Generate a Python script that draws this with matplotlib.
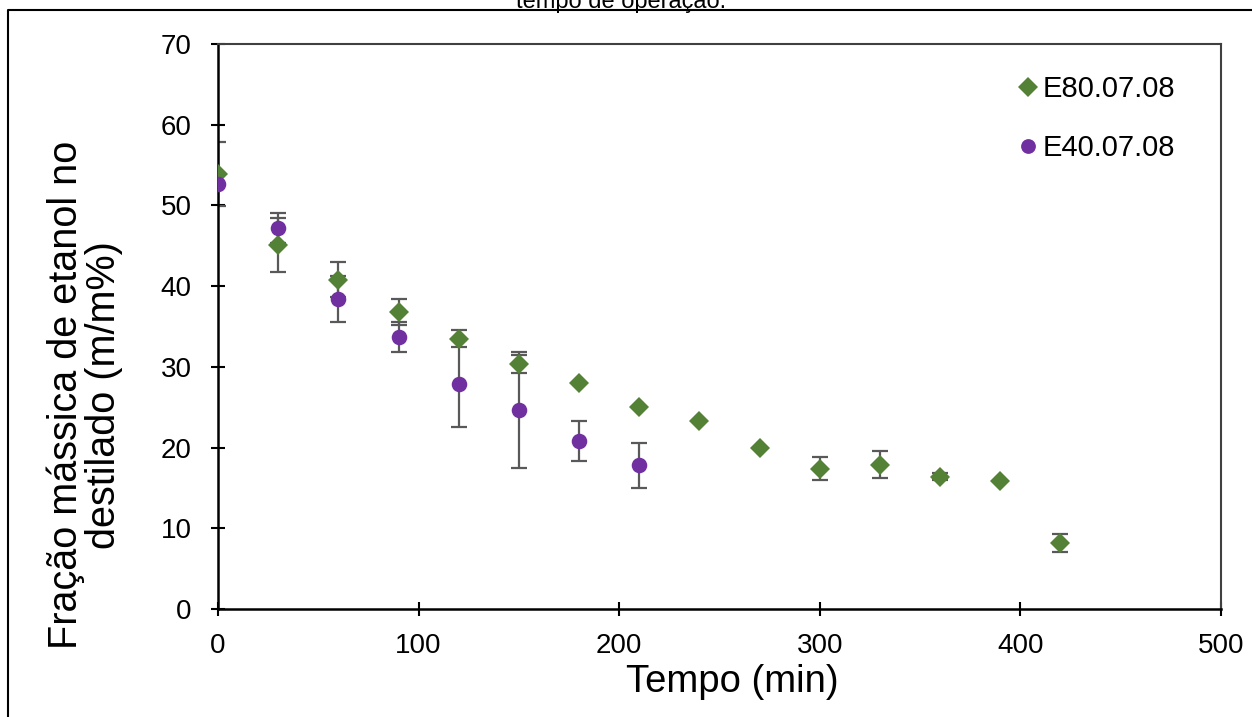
import matplotlib.pyplot as plt
from matplotlib.lines import Line2D

plt.rcParams['font.family'] = ['Liberation Sans', 'DejaVu Sans']

# E80.07.08 (green diamonds)
t80 = [0, 30, 60, 90, 120, 150, 180, 210, 240, 270, 300, 330, 360, 390, 420]
y80 = [53.9, 45.1, 40.8, 36.8, 33.5, 30.4, 28.0, 25.0, 23.3, 20.0, 17.4, 17.9, 16.4, 15.8, 8.15]
e80 = [4.0, 3.3, 2.2, 1.6, 1.05, 1.1, 0.0, 0.0, 0.0, 0.0, 1.4, 1.65, 0.4, 0.0, 1.1]

# E40.07.08 (purple circles)
t40 = [0, 30, 60, 90, 120, 150, 180, 210]
y40 = [52.7, 47.2, 38.4, 33.7, 27.9, 24.7, 20.8, 17.8]
e40 = [0.0, 1.9, 2.9, 1.85, 5.4, 7.2, 2.5, 2.8]

green = '#538135'
purple = '#7030a0'
errc = '#595959'

fig = plt.figure(figsize=(12.52, 7.17), dpi=100)
ax = fig.add_axes([0.1741, 0.1506, 0.8011, 0.788])

ax.errorbar(t80, y80, yerr=e80, fmt='none', ecolor=errc, elinewidth=1.6, capsize=6, capthick=1.6, zorder=2)
ax.errorbar(t40, y40, yerr=e40, fmt='none', ecolor=errc, elinewidth=1.6, capsize=6, capthick=1.6, zorder=2)
ax.plot(t80, y80, 'D', color=green, markersize=10.5, markeredgewidth=0, label='E80.07.08', zorder=3)
ax.plot(t40, y40, 'o', color=purple, markersize=11.2, markeredgewidth=0, label='E40.07.08', zorder=4)

ax.set_xlim(0, 500)
ax.set_ylim(0, 70)
ax.set_xticks([0, 100, 200, 300, 400, 500])
ax.set_yticks([0, 10, 20, 30, 40, 50, 60, 70])
ax.tick_params(direction='inout', length=10, width=1.5, labelsize=20, color='black')
ax.tick_params(axis='y', pad=14)
ax.tick_params(axis='x', pad=12)
for s in ['left', 'bottom']:
    ax.spines[s].set_linewidth(1.8)
    ax.spines[s].set_color('black')
for s in ['top', 'right']:
    ax.spines[s].set_linewidth(1.5)
    ax.spines[s].set_color('#404040')

ax.set_xlabel('Tempo (min)', fontsize=27.5)
ax.xaxis.set_label_coords(0.513, -0.097)
ax.set_ylabel('Fração mássica de etanol no\ndestilado (m/m%)', fontsize=28.5, linespacing=1.0)
ax.yaxis.set_label_coords(-0.095, 0.379)

ax.legend(loc='upper left', bbox_to_anchor=(0.787, 0.965), frameon=False, fontsize=21,
          markerscale=0.95, handlelength=0.6, handletextpad=0.2, labelspacing=1.05,
          borderaxespad=0)

# cropped caption from the page and the outer frame
fig.text(621 / 1252, 1 - 8 / 717, 'tempo de operação.', fontsize=17, ha='center', va='baseline')
fig.add_artist(Line2D([8 / 1252, 8 / 1252, 1.0], [0.0, 1 - 10 / 717, 1 - 10 / 717],
                      transform=fig.transFigure, color='black', linewidth=1.5))

fig.savefig('out.png', dpi=100)
